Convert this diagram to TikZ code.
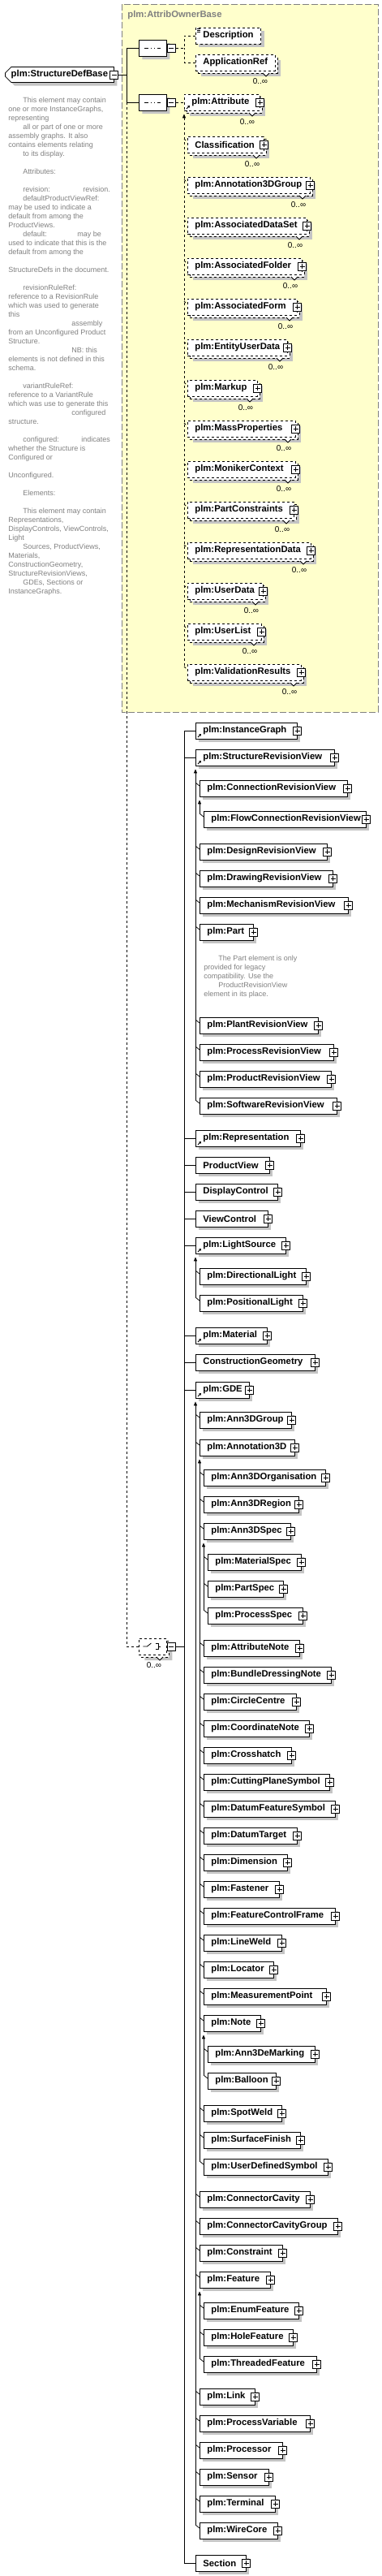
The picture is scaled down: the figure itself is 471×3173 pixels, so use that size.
\documentclass[tikz,border=0pt]{standalone}
\usepackage{fontspec}
\setmainfont{Liberation Sans}
\usetikzlibrary{shapes.misc,shadows,arrows.meta}
\definecolor{ownerbg}{RGB}{255,255,204}
\definecolor{ownergrey}{RGB}{128,128,128}
\definecolor{notegrey}{RGB}{128,128,128}
\definecolor{shadegrey}{RGB}{196,196,196}
\newcommand{\elfont}{\fontsize{11.3}{13}\selectfont\bfseries}
\newcommand{\docfont}{\fontsize{9}{11}\selectfont}

\begin{document}
\begin{tikzpicture}[x=1pt,y=-1pt,line width=0.8pt,
  shade4/.style={drop shadow={shadow xshift=4pt,shadow yshift=-4pt,draw=none,fill=shadegrey,opacity=1}},
  shade7/.style={drop shadow={shadow xshift=7pt,shadow yshift=-7pt,draw=none,fill=shadegrey,opacity=1},
    copy shadow={shadow xshift=3pt,shadow yshift=-3pt,dashed,draw=black,line width=0.8pt,fill=white}},
  elbox/.style={draw,fill=white,anchor=west,minimum height=20pt,inner xsep=9pt,inner ysep=0pt,align=left,font=\elfont,shade4},
  optbox/.style={elbox,dashed},
  multibox/.style={draw,dashed,fill=white,anchor=west,minimum height=20pt,inner xsep=9pt,inner ysep=0pt,align=left,font=\elfont,shade7},
  rootbox/.style={chamfered rectangle,chamfered rectangle corners={north west,south west},chamfered rectangle xsep=4pt,
    draw,fill=white,minimum width=134pt,minimum height=19pt,inner sep=0pt,anchor=west,font=\elfont,shade4},
  seqnode/.style={chamfered rectangle,chamfered rectangle xsep=5pt,draw,fill=white,minimum width=34pt,minimum height=20pt,
    inner sep=0pt,anchor=west,shade4,
    path picture={\draw[solid] ([xshift=-10pt]path picture bounding box.center) -- ([xshift=10pt]path picture bounding box.center);
      \foreach \d in {-4,0,4} \fill ([xshift=\d pt]path picture bounding box.center) +(-1.3pt,-1.3pt) rectangle +(1.3pt,1.3pt);}},
  choicenode/.style={chamfered rectangle,chamfered rectangle xsep=5pt,draw,dashed,fill=white,minimum width=34pt,minimum height=20pt,
    inner sep=0pt,anchor=west,shade7,
    path picture={\draw[solid] ([xshift=-12pt]path picture bounding box.center) -- ([xshift=-7pt]path picture bounding box.center)
        -- ([shift={(-2pt,4pt)}]path picture bounding box.center);
      \foreach \d in {-3.5,0,3.5} \fill ([shift={(1pt,\d pt)}]path picture bounding box.center) +(-1.2pt,-1.2pt) rectangle +(1.2pt,1.2pt);
      \draw[solid] ([shift={(3.5pt,3.5pt)}]path picture bounding box.center) -| ([shift={(6.5pt,-3.5pt)}]path picture bounding box.center)
        -- ([shift={(3.5pt,-3.5pt)}]path picture bounding box.center)
        ([shift={(6.5pt,0pt)}]path picture bounding box.center) -- ([shift={(10pt,0pt)}]path picture bounding box.center);}},
  plusbox/.style={draw,solid,fill=white,minimum size=10pt,inner sep=0pt,line width=0.8pt,
    path picture={\draw[solid] ([xshift=2pt]path picture bounding box.west) -- ([xshift=-2pt]path picture bounding box.east)
      ([yshift=-2pt]path picture bounding box.north) -- ([yshift=2pt]path picture bounding box.south);}},
  minusbox/.style={draw,solid,fill=white,minimum size=10pt,inner sep=0pt,line width=0.8pt,
    path picture={\draw[solid] ([xshift=2pt]path picture bounding box.west) -- ([xshift=-2pt]path picture bounding box.east);}},
  card/.style={font=\fontsize{10}{12}\selectfont,inner sep=0pt},
  doc/.style={font=\docfont,text=notegrey,align=left,inner sep=0pt,anchor=north west},
  refarr/.style={solid,line width=1pt,-{Triangle[length=2.5pt,width=3pt]}},
  substarr/.style={{Triangle[length=5pt,width=4pt]}-}]

\useasboundingbox (0,0) rectangle (471,3173);

\draw[ownergrey,fill=ownerbg,dash pattern=on 8pt off 3pt] (150,5) rectangle (466,877);
\node[anchor=west,text=ownergrey,font=\elfont,inner sep=0pt] (ownerlbl) at (157,19) {plm:AttribOwnerBase};

\node[rootbox] (root) at (6,92) {plm:StructureDefBase};
\node[minusbox] (root-x) at (root.east) {};

\node[doc] (rootnote) at (10,120) {%
\hspace*{18pt}This element may contain\\
one or more InstanceGraphs,\\
representing\\
\hspace*{18pt}all or part of one or more\\
assembly graphs. It also\\
contains elements relating\\
\hspace*{18pt}to its display.\\
\mbox{}\\
\hspace*{18pt}Attributes:\\
\mbox{}\\
\makebox[92pt][l]{\hspace*{18pt}revision:}revision.\\
\hspace*{18pt}defaultProductViewRef:\\
may be used to indicate a\\
default from among the\\
ProductViews.\\
\makebox[85pt][l]{\hspace*{18pt}default:}may be\\
used to indicate that this is the\\
default from among the\\
\mbox{}\\
StructureDefs in the document.\\
\mbox{}\\
\hspace*{18pt}revisionRuleRef:\\
reference to a RevisionRule\\
which was used to generate\\
this\\
\hspace*{78pt}assembly\\
from an Unconfigured Product\\
Structure.\\
\hspace*{78pt}NB: this\\
elements is not defined in this\\
schema.\\
\mbox{}\\
\hspace*{18pt}variantRuleRef:\\
reference to a VariantRule\\
which was use to generate this\\
\hspace*{78pt}configured\\
structure.\\
\mbox{}\\
\makebox[90pt][l]{\hspace*{18pt}configured:}indicates\\
whether the Structure is\\
Configured or\\
\mbox{}\\
Unconfigured.\\
\mbox{}\\
\hspace*{18pt}Elements:\\
\mbox{}\\
\hspace*{18pt}This element may contain\\
Representations,\\
DisplayControls, ViewControls,\\
Light\\
\hspace*{18pt}Sources, ProductViews,\\
Materials,\\
ConstructionGeometry,\\
StructureRevisionViews,\\
\hspace*{18pt}GDEs, Sections or\\
InstanceGraphs.};

\node[seqnode] (seq1) at (171,59) {};
\node[minusbox,anchor=west] (seq1-x) at (seq1.east) {};
\node[seqnode] (seq2) at (171,126) {};
\node[minusbox,anchor=west] (seq2-x) at (seq2.east) {};

\coordinate (trunk) at (156,92);
\draw (root-x.east) -- (trunk);
\draw (seq1.west) -| (trunk);
\draw (seq2.west) -| (trunk);

% first sequence
\node[optbox] (Description) at (241,44) {Description};
\foreach \k in {0,2,4} \draw[solid,line width=0.6pt] ([shift={(2pt,-2pt-\k pt)}]Description.north west) -- ++(4,0);
\node[multibox] (ApplicationRef) at (241,77) {ApplicationRef};
\draw[solid,fill=white] (324,90) -- (328,94) -- (332,90);
\node[card] (ApplicationRef-c) at (321,100) {0..∞};
\coordinate (seq1j) at (227,59);
\draw[dashed] (seq1-x.east) -- (seq1j);
\draw[dashed] (Description.west) -| (seq1j);
\draw[dashed] (ApplicationRef.west) -| (seq1j);

% second sequence
\node[multibox,text width=75pt] (Attribute) at (227,126) {plm:Attribute};
\node[plusbox] (Attribute-x) at (Attribute.east) {};
\draw[refarr] ([shift={(3pt,-8pt)}]Attribute.west) -- ([shift={(7pt,-4pt)}]Attribute.west);
\draw[solid,fill=white] (307,139) -- (311,143) -- (315,139);
\node[card] (Attribute-c) at (305,150) {0..∞};
\draw[dashed] (seq2-x.east) -- (Attribute.west);
\draw[dashed,substarr] ([yshift=-4pt]Attribute.south west) -- (227,821);

\foreach \nm/\rx/\cy/\txt in {Classification/325/178/Classification,
  Annotation3DGroup/382/228/plm:Annotation3DGroup, AssocDataSet/378/278/plm:AssociatedDataSet,
  AssocFolder/372/328/plm:AssociatedFolder, AssocForm/366/378/plm:AssociatedForm,
  EntityUserData/354/428/plm:EntityUserData, Markup/317/478/plm:Markup,
  MassProperties/364/528/plm:MassProperties, MonikerContext/364/578/plm:MonikerContext,
  PartConstraints/362/628/plm:PartConstraints, ReprData/383/678/plm:RepresentationData,
  UserData/324/728/plm:UserData, UserList/322/778/plm:UserList,
  ValidationResults/371/828/plm:ValidationResults}{
  \pgfmathsetmacro\tw{\rx-231-18}
  \node[multibox,text width=\tw pt] (\nm) at (231,\cy) {\txt};
  \node[plusbox] (\nm-x) at (\nm.east) {};
  \draw[solid,fill=white] (\rx-13,\cy+13) -- (\rx-9,\cy+17) -- (\rx-5,\cy+13);
  \node[card] (\nm-c) at (\rx-14,\cy+24) {0..∞};
  \draw[dashed] ([shift={(-4pt,7pt)}]\nm.west) -- ([yshift=3pt]\nm.west);
}

% choice of elements
\node[choicenode] (choice) at (171,2028) {};
\node[minusbox,anchor=west] (choice-x) at (choice.east) {};
\draw[solid,fill=white] (193,2041) -- (197,2045) -- (201,2041);
\node[card] (choice-c) at (190,2051) {0..∞};
\draw[dashed] (choice.west) -| (trunk |- seq2.west);

\foreach \nm/\lx/\rx/\cy/\txt/\rf in {InstanceGraph/241/366/900/plm:InstanceGraph/1,
  StructRV/241/412/933/plm:StructureRevisionView/1,
  ConnRV/246/428/971/plm:ConnectionRevisionView/0,
  FlowConnRV/251/451/1009/plm:FlowConnectionRevisionView/0,
  DesignRV/246/403/1049/plm:DesignRevisionView/0,
  DrawingRV/246/410/1082/plm:DrawingRevisionView/0,
  MechRV/246/429/1115/plm:MechanismRevisionView/0,
  Part/246/312/1148/plm:Part/0,
  PlantRV/246/392/1263/plm:PlantRevisionView/0,
  ProcessRV/246/411/1296/plm:ProcessRevisionView/0,
  ProductRV/246/408/1329/plm:ProductRevisionView/0,
  SoftwareRV/246/415/1362/plm:SoftwareRevisionView/0,
  Representation/241/370/1402/plm:Representation/1,
  ProductView/241/332/1435/ProductView/0,
  DisplayControl/241/342/1468/DisplayControl/0,
  ViewControl/241/330/1501/ViewControl/0,
  LightSource/241/352/1534/plm:LightSource/1,
  DirLight/246/377/1572/plm:DirectionalLight/0,
  PosLight/246/373/1605/plm:PositionalLight/0,
  Material/241/329/1645/plm:Material/1,
  ConstrGeom/241/388/1678/ConstructionGeometry/0,
  GDE/241/307/1712/plm:GDE/1,
  Ann3DGroup/246/359/1749/plm:Ann3DGroup/0,
  Annotation3D/246/363/1783/plm:Annotation3D/0,
  Ann3DOrg/251/401/1820/plm:Ann3DOrganisation/0,
  Ann3DRegion/251/368/1853/plm:Ann3DRegion/0,
  Ann3DSpec/251/358/1886/plm:Ann3DSpec/0,
  MaterialSpec/256/371/1924/plm:MaterialSpec/0,
  PartSpec/256/349/1957/plm:PartSpec/0,
  ProcessSpec/256/373/1990/plm:ProcessSpec/0,
  AttributeNote/251/369/2030/plm:AttributeNote/0,
  BundleNote/251/408/2063/plm:BundleDressingNote/0,
  CircleCentre/251/365/2096/plm:CircleCentre/0,
  CoordNote/251/381/2129/plm:CoordinateNote/0,
  Crosshatch/251/359/2162/plm:Crosshatch/0,
  CuttingPlane/251/406/2195/plm:CuttingPlaneSymbol/0,
  DatumFeature/251/413/2228/plm:DatumFeatureSymbol/0,
  DatumTarget/251/366/2261/plm:DatumTarget/0,
  Dimension/251/354/2294/plm:Dimension/0,
  Fastener/251/344/2327/plm:Fastener/0,
  FCFrame/251/413/2360/plm:FeatureControlFrame/0,
  LineWeld/251/347/2393/plm:LineWeld/0,
  Locator/251/337/2426/plm:Locator/0,
  MeasPoint/251/402/2459/plm:MeasurementPoint/0,
  Note/251/321/2492/plm:Note/0,
  Ann3DeMarking/256/388/2530/plm:Ann3DeMarking/0,
  Balloon/256/340/2563/plm:Balloon/0,
  SpotWeld/251/347/2603/plm:SpotWeld/0,
  SurfaceFinish/251/370/2636/plm:SurfaceFinish/0,
  UserSymbol/251/404/2669/plm:UserDefinedSymbol/0,
  ConnCavity/246/382/2709/plm:ConnectorCavity/0,
  ConnCavityGroup/246/416/2742/plm:ConnectorCavityGroup/0,
  Constraint/246/348/2775/plm:Constraint/0,
  Feature/246/333/2808/plm:Feature/0,
  EnumFeature/251/368/2846/plm:EnumFeature/0,
  HoleFeature/251/361/2879/plm:HoleFeature/0,
  ThreadedFeature/251/390/2912/plm:ThreadedFeature/0,
  Link/246/314/2952/plm:Link/0,
  ProcessVariable/246/382/2985/plm:ProcessVariable/0,
  Processor/246/348/3018/plm:Processor/0,
  Sensor/246/331/3051/plm:Sensor/0,
  Terminal/246/339/3084/plm:Terminal/0,
  WireCore/246/342/3117/plm:WireCore/0,
  Section/241/303/3157/Section/0}{
  \pgfmathsetmacro\tw{\rx-\lx-18}
  \node[elbox,text width=\tw pt] (\nm) at (\lx,\cy) {\txt};
  \node[plusbox] (\nm-x) at (\nm.east) {};
  \ifnum\rf=1 \draw[refarr] ([shift={(3pt,-8pt)}]\nm.west) -- ([shift={(7pt,-4pt)}]\nm.west);\fi
}

\node[doc] (partnote) at (251,1177) {%
\hspace*{18pt}The Part element is only\\
provided for legacy\\
compatibility. Use the\\
\hspace*{18pt}ProductRevisionView\\
element in its place.};

\coordinate (choicej) at (227,2028);
\draw (choice-x.east) -- (choicej);
\draw (InstanceGraph.west) -| (choicej);
\draw (Section.west) -| (choicej);
\foreach \nm in {StructRV,Representation,ProductView,DisplayControl,ViewControl,LightSource,Material,ConstrGeom,GDE}
  \draw (\nm.west) -- (choicej |- \nm.west);

% substitution groups
\draw[substarr] ([yshift=-4pt]StructRV.south west) -- ([shift={(-5pt,7pt)}]SoftwareRV.west);
\draw[substarr] ([yshift=-4pt]ConnRV.south west) -- ([shift={(-5pt,7pt)}]FlowConnRV.west);
\draw[substarr] ([yshift=-4pt]LightSource.south west) -- ([shift={(-5pt,7pt)}]PosLight.west);
\draw[substarr] ([yshift=-4pt]GDE.south west) -- ([shift={(-5pt,7pt)}]WireCore.west);
\draw[substarr] ([yshift=-4pt]Annotation3D.south west) -- ([shift={(-5pt,7pt)}]UserSymbol.west);
\draw[substarr] ([yshift=-4pt]Ann3DSpec.south west) -- ([shift={(-5pt,7pt)}]ProcessSpec.west);
\draw[substarr] ([yshift=-4pt]Note.south west) -- ([shift={(-5pt,7pt)}]Balloon.west);
\draw[substarr] ([yshift=-4pt]Feature.south west) -- ([shift={(-5pt,7pt)}]ThreadedFeature.west);

\foreach \nm in {ConnRV,FlowConnRV,DesignRV,DrawingRV,MechRV,Part,PlantRV,ProcessRV,ProductRV,SoftwareRV,
  DirLight,PosLight,Ann3DGroup,Annotation3D,Ann3DOrg,Ann3DRegion,Ann3DSpec,MaterialSpec,PartSpec,ProcessSpec,
  AttributeNote,BundleNote,CircleCentre,CoordNote,Crosshatch,CuttingPlane,DatumFeature,DatumTarget,Dimension,
  Fastener,FCFrame,LineWeld,Locator,MeasPoint,Note,Ann3DeMarking,Balloon,SpotWeld,SurfaceFinish,UserSymbol,
  ConnCavity,ConnCavityGroup,Constraint,Feature,EnumFeature,HoleFeature,ThreadedFeature,
  Link,ProcessVariable,Processor,Sensor,Terminal,WireCore}
  \draw ([shift={(-5pt,7pt)}]\nm.west) -- ([yshift=3pt]\nm.west);

\end{tikzpicture}
\end{document}
